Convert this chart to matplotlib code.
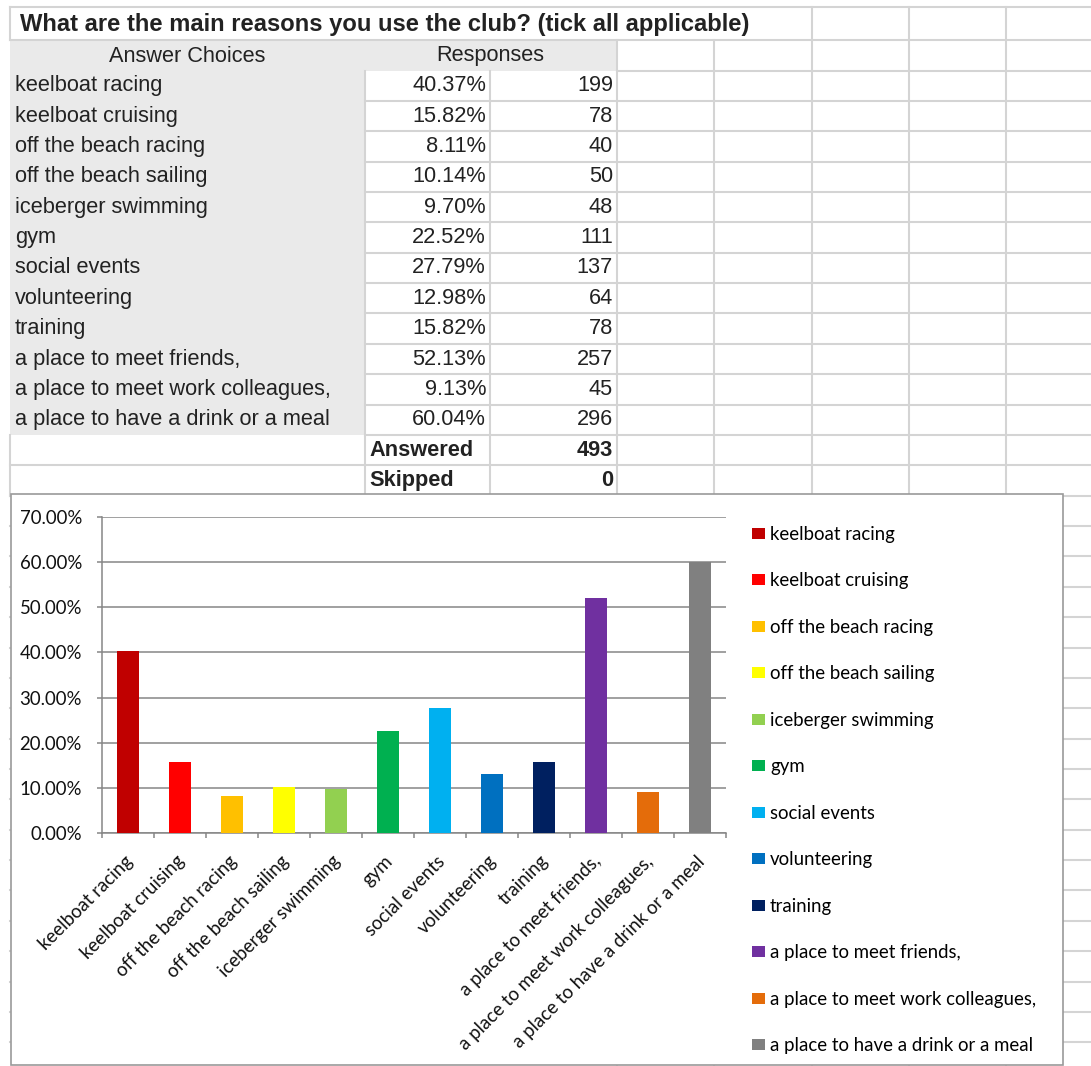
import matplotlib
matplotlib.use("Agg")
import matplotlib.pyplot as plt
from matplotlib.patches import Rectangle
import matplotlib.transforms as mtransforms

# survey data
categories = ["keelboat racing", "keelboat cruising", "off the beach racing",
              "off the beach sailing", "iceberger swimming", "gym", "social events",
              "volunteering", "training", "a place to meet friends,",
              "a place to meet work colleagues,", "a place to have a drink or a meal"]
percentages = [40.37, 15.82, 8.11, 10.14, 9.70, 22.52, 27.79, 12.98, 15.82, 52.13, 9.13, 60.04]
counts = [199, 78, 40, 50, 48, 111, 137, 64, 78, 257, 45, 296]
answered = 493
skipped = 0
y_ticks = [0, 10, 20, 30, 40, 50, 60, 70]

colors = ["#C00000", "#FF0000", "#FFC000", "#FFFF00", "#92D050", "#00B050",
          "#00B0F0", "#0070C0", "#002060", "#7030A0", "#E46C0A", "#808080"]

W, H = 1091, 1066
fig = plt.figure(figsize=(W / 100, H / 100), dpi=100)

# spreadsheet background drawn in pixel coordinates
bg = fig.add_axes([0, 0, 1, 1])
bg.set_xlim(0, W)
bg.set_ylim(H, 0)
bg.axis("off")

grid_c = "#D4D4D4"
txt_c = "#222222"
table_font = "Liberation Sans"
fs = 15.7

row0, pitch = 70.5, 30.37
rows = [row0 + pitch * k for k in range(34)]

# gray areas
bg.add_patch(Rectangle((10, 40), 607, row0 - 40, facecolor="#EAEAEA", edgecolor="none", zorder=1))
bg.add_patch(Rectangle((10, row0), 355, rows[12] - row0, facecolor="#EAEAEA", edgecolor="none", zorder=1))

# grid lines
bg.plot([10, W], [7, 7], color=grid_c, lw=1.5, zorder=2)
bg.plot([10, W], [40, 40], color=grid_c, lw=1.5, zorder=2)
bg.plot([617, W], [row0, row0], color=grid_c, lw=1.5, zorder=2)
for k, y in enumerate(rows[1:], start=1):
    x0 = 365 if k <= 12 else 10
    bg.plot([x0, W], [y, y], color=grid_c, lw=1.5, zorder=2)
bg.plot([10, 10], [7, 40], color=grid_c, lw=1.5, zorder=2)
bg.plot([10, 10], [rows[12], rows[14]], color=grid_c, lw=1.5, zorder=2)
for x in [365, 490]:
    bg.plot([x, x], [row0, rows[14]], color=grid_c, lw=1.5, zorder=2)
for x in [617, 714]:
    bg.plot([x, x], [40, H], color=grid_c, lw=1.5, zorder=2)
for x in [812, 909, 1006]:
    bg.plot([x, x], [7, H], color=grid_c, lw=1.5, zorder=2)

# table text
bg.text(20, 24, "What are the main reasons you use the club? (tick all applicable)",
        fontsize=17.15, fontweight="bold", family=table_font, color=txt_c, va="center", zorder=3)
bg.text(187, 56, "Answer Choices", fontsize=fs, family=table_font, color=txt_c,
        ha="center", va="center", zorder=3)
bg.text(490, 56, "Responses", fontsize=fs, family=table_font, color=txt_c,
        ha="center", va="center", zorder=3)
for i, (cat, p, n) in enumerate(zip(categories, percentages, counts)):
    yc = (rows[i] + rows[i + 1]) / 2
    bg.text(15, yc, cat, fontsize=fs, family=table_font, color=txt_c, va="center", zorder=3)
    bg.text(486, yc, f"{p:.2f}%", fontsize=fs, family=table_font, color=txt_c,
            ha="right", va="center", zorder=3)
    bg.text(613, yc, f"{n}", fontsize=fs, family=table_font, color=txt_c,
            ha="right", va="center", zorder=3)
for j, (name, val) in enumerate([("Answered", answered), ("Skipped", skipped)]):
    yc = (rows[12 + j] + rows[13 + j]) / 2
    bg.text(369, yc, name, fontsize=fs, fontweight="bold", family=table_font,
            color=txt_c, va="center", zorder=3)
    bg.text(613, yc, f"{val}", fontsize=fs, fontweight="bold", family=table_font,
            color=txt_c, ha="right", va="center", zorder=3)

# chart frame
bg.add_patch(Rectangle((11, 494), 1052, 571, facecolor="white", edgecolor="#9A9A9A",
                       lw=1.2, zorder=5))

# bar chart
chart_font = "Lato"
cfs = 13.4
left, right, top, bottom = 102, 726, 517, 833
ax = fig.add_axes([left / W, 1 - bottom / H, (right - left) / W, (bottom - top) / H])
x = range(len(categories))
bars = ax.bar(x, percentages, width=0.42, color=colors, zorder=3)
ax.set_xlim(-0.5, len(categories) - 0.5)
ax.set_ylim(0, 70)
ax.set_yticks(y_ticks)
ax.set_yticklabels([f"{v:.2f}%" for v in y_ticks], family=chart_font, fontsize=cfs, color="#111111")
ax.yaxis.grid(True, color="#868686", lw=1.1, zorder=0)
ax.set_axisbelow(True)
for s in ["top", "right"]:
    ax.spines[s].set_visible(False)
for s in ["left", "bottom"]:
    ax.spines[s].set_color("#868686")
    ax.spines[s].set_linewidth(1.1)
ax.tick_params(axis="y", length=3.6, width=1.1, color="#868686", pad=10.8)
ax.set_xticks(list(x))
ax.set_xticks([i - 0.5 for i in range(len(categories) + 1)], minor=True)
ax.tick_params(axis="x", which="major", length=0, pad=14)
ax.tick_params(axis="x", which="minor", length=3.6, width=1.1, color="#868686")
ax.set_xticklabels(categories, family=chart_font, fontsize=cfs, color="#111111",
                   rotation=45, ha="right")
offset = mtransforms.ScaledTranslation(8 / 100, 0, fig.dpi_scale_trans)
for lab in ax.get_xticklabels():
    lab.set_transform(lab.get_transform() + offset)

handles = [Rectangle((0, 0), 1, 1, facecolor=c) for c in colors]
fig.legend(handles, categories, loc="upper left", bbox_to_anchor=(752 / W, 1 - 526 / H),
           frameon=False, borderpad=0, borderaxespad=0, handlelength=0.70,
           handleheight=0.54, handletextpad=0.27, labelspacing=1.585,
           prop={"family": chart_font, "size": cfs})

fig.savefig("out.png", dpi=100)
